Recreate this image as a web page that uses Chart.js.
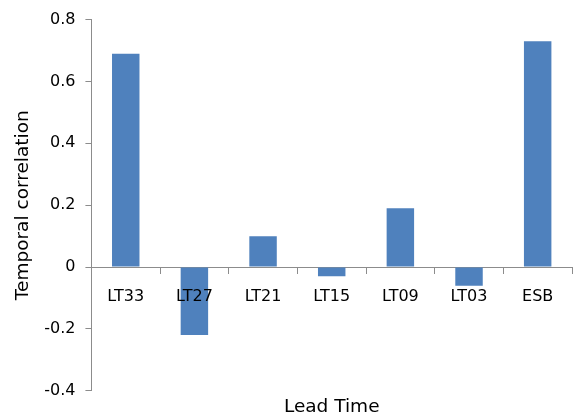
<!DOCTYPE html>
<html>
<head>
<meta charset="utf-8">
<script src="https://cdn.jsdelivr.net/npm/chart.js@4"></script>
<style>
  html, body { margin: 0; padding: 0; background: #fff; }
  #wrap { width: 574px; height: 418px; }
</style>
</head>
<body>
<div id="wrap"><canvas id="corrChart" width="574" height="418"></canvas></div>
<script>
const leadTimes = ['LT33', 'LT27', 'LT21', 'LT15', 'LT09', 'LT03', 'ESB'];
const correlation = [0.69, -0.22, 0.10, -0.03, 0.19, -0.06, 0.73];
const yTicks = [-0.4, -0.2, 0, 0.2, 0.4, 0.6, 0.8];

const axisGray = '#8c8c8c';
const fontFamily = 'Tahoma, "DejaVu Sans", Verdana, sans-serif';

const ctx = document.getElementById('corrChart').getContext('2d');
new Chart(ctx, {
  type: 'bar',
  data: {
    labels: leadTimes,
    datasets: [{
      label: 'Temporal correlation',
      data: correlation,
      backgroundColor: '#4f81bd',
      borderWidth: 0,
      categoryPercentage: 1.0,
      barPercentage: 0.4
    }]
  },
  options: {
    responsive: false,
    animation: false,
    layout: { padding: { top: 12, right: 2, left: 12, bottom: 0 } },
    plugins: {
      legend: { display: false },
      tooltip: { enabled: false },
      title: {
        display: true,
        position: 'bottom',
        fullSize: false,
        text: 'Lead Time',
        color: '#000',
        font: { family: fontFamily, size: 18.5, weight: 'normal' },
        padding: { top: 5, bottom: 0 }
      }
    },
    scales: {
      x: {
        position: { y: 0 },
        grid: {
          display: true,
          drawOnChartArea: false,
          drawTicks: true,
          tickLength: 6,
          color: axisGray,
          offset: true
        },
        border: { display: true, color: axisGray, width: 1 },
        ticks: {
          z: 1,
          color: '#000',
          font: { family: fontFamily, size: 16 },
          padding: 14,
          maxRotation: 0
        }
      },
      y: {
        min: -0.4,
        max: 0.8,
        afterBuildTicks: axis => { axis.ticks = yTicks.map(v => ({ value: v })); },
        grid: {
          display: true,
          drawOnChartArea: false,
          drawTicks: true,
          tickLength: 6,
          color: axisGray
        },
        border: { display: true, color: axisGray, width: 1 },
        ticks: {
          color: '#000',
          font: { family: fontFamily, size: 16 },
          padding: 10,
          callback: v => (Math.abs(v) < 1e-9 ? '0' : String(Math.round(v * 10) / 10))
        },
        title: {
          display: true,
          text: 'Temporal correlation',
          color: '#000',
          font: { family: fontFamily, size: 18.5 },
          padding: { top: 0, bottom: 0 }
        }
      }
    }
  }
});
</script>
</body>
</html>
